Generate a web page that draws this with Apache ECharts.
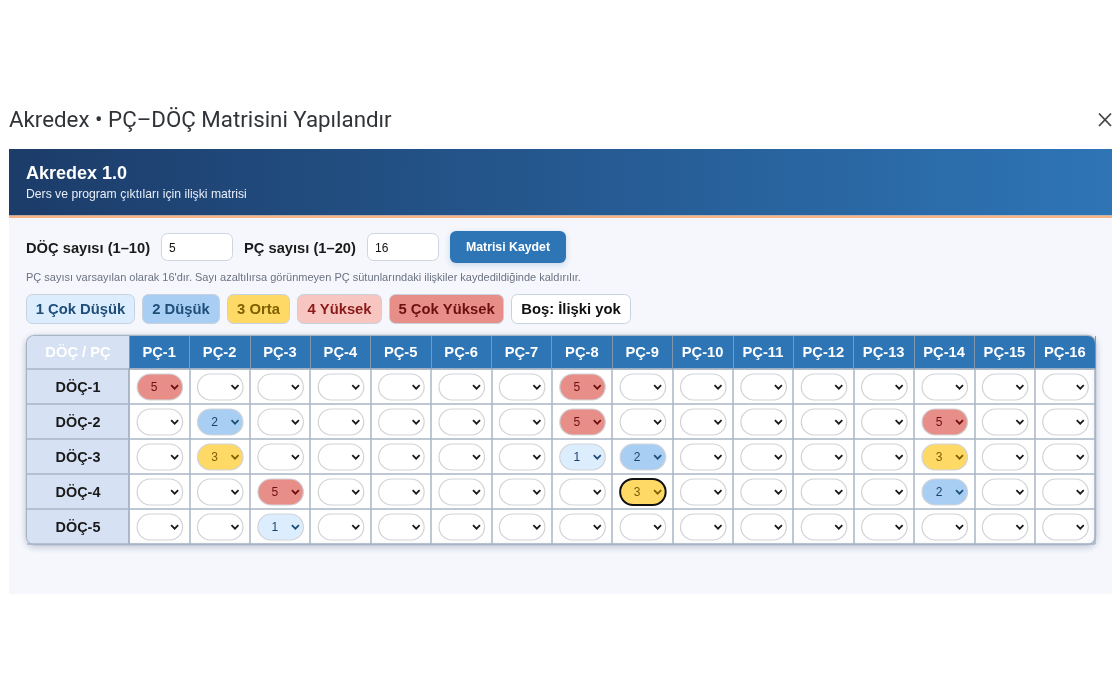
<!DOCTYPE html>
<html><head><meta charset="utf-8">
<style>html,body{margin:0;padding:0;background:#fff}#c{width:1120px;height:700px}</style>
<script src="https://cdn.jsdelivr.net/npm/echarts@6/dist/echarts.min.js"></script>
</head><body><div id="c"></div>
<script>
const pcLabels = ['PÇ-1','PÇ-2','PÇ-3','PÇ-4','PÇ-5','PÇ-6','PÇ-7','PÇ-8','PÇ-9','PÇ-10','PÇ-11','PÇ-12','PÇ-13','PÇ-14','PÇ-15','PÇ-16'];
const docLabels = ['DÖÇ-1','DÖÇ-2','DÖÇ-3','DÖÇ-4','DÖÇ-5'];
// 0 = boş (no relation)
const doc1 = [5,0,0,0,0,0,0,5,0,0,0,0,0,0,0,0];
const doc2 = [0,2,0,0,0,0,0,5,0,0,0,0,0,5,0,0];
const doc3 = [0,3,0,0,0,0,0,1,2,0,0,0,0,3,0,0];
const doc4 = [0,0,5,0,0,0,0,0,3,0,0,0,0,2,0,0];
const doc5 = [0,0,1,0,0,0,0,0,0,0,0,0,0,0,0,0];
const focusedCell = ['PÇ-9','DÖÇ-4'];
const legendLabels = ['1 Çok Düşük','2 Düşük','3 Orta','4 Yüksek','5 Çok Yüksek','Boş: İlişki yok'];
const titleText = 'Akredex • PÇ–DÖÇ Matrisini Yapılandır';
const appName = 'Akredex 1.0';
const appSub = 'Ders ve program çıktıları için ilişki matrisi';
const docCountLabel = 'DÖÇ sayısı (1–10)';
const pcCountLabel = 'PÇ sayısı (1–20)';
const docCount = '5';
const pcCount = '16';
const saveLabel = 'Matrisi Kaydet';
const noteText = 'PÇ sayısı varsayılan olarak 16\'dır. Sayı azaltılırsa görünmeyen PÇ sütunlarındaki ilişkiler kaydedildiğinde kaldırılır.';
const cornerLabel = 'DÖÇ / PÇ';

const rows = [doc1,doc2,doc3,doc4,doc5];
const cells = [];
rows.forEach((r,y)=>r.forEach((v,x)=>cells.push([x,y,v])));

const FONT = '"Liberation Sans", Arial, sans-serif';
const pill = {
  0:{fill:'#ffffff',text:'#111111',arrow:'#1a1a1a'},
  1:{fill:'#dceefe',text:'#1f3f6b',arrow:'#1f4e79'},
  2:{fill:'#a8cff3',text:'#1f3f6b',arrow:'#1f4e79'},
  3:{fill:'#ffd966',text:'#7f6000',arrow:'#7f6000'},
  4:{fill:'#f8c6c0',text:'#7a1212',arrow:'#7a1212'},
  5:{fill:'#e88e88',text:'#6e0f0f',arrow:'#6e0f0f'}
};
const chipStyle = [
  {x:26,w:109,fill:'#dceefe',text:'#1f4e79'},
  {x:142,w:78,fill:'#a8cff3',text:'#1f4e79'},
  {x:227,w:63,fill:'#ffd966',text:'#7f6000'},
  {x:297,w:85,fill:'#f8c6c0',text:'#8b1a1a'},
  {x:389,w:115,fill:'#e88e88',text:'#6e0f0f'},
  {x:511,w:120,fill:'#ffffff',text:'#111111'}
];
const T=(x,y,text,font,fill,extra)=>({type:'text',z:5,x:x,y:y+1,style:Object.assign({text:text,font:font,fill:fill,textVerticalAlign:'middle',textAlign:'left'},extra||{})});
const R=(x,y,w,h,r,fill,stroke,lw,extra)=>({type:'rect',z:-1,shape:{x:x,y:y,width:w,height:h,r:r},style:Object.assign({fill:fill,stroke:stroke||null,lineWidth:lw||0},extra||{})});

const g = [];
g.push(T(9,120,titleText,'22.3px Roboto, sans-serif','#303338'));
// close icon
g.push({type:'line',z:5,shape:{x1:1099,y1:113.5,x2:1111,y2:126},style:{stroke:'#444',lineWidth:1.8}});
g.push({type:'line',z:5,shape:{x1:1111,y1:113.5,x2:1099,y2:126},style:{stroke:'#444',lineWidth:1.8}});
// panel
g.push(R(9,149,1103,445,0,'#f5f7fc'));
g.push(R(9,149,1103,66.5,0,new echarts.graphic.LinearGradient(0,0,1,0.06,[{offset:0,color:'#1c3c69'},{offset:1,color:'#2e75b6'}])));
g.push(R(9,215.5,1103,2.5,0,'#f7b588'));
g.push(T(26,173,appName,'bold 18px '+FONT,'#ffffff'));
g.push(T(26,194,appSub,'12.2px '+FONT,'#e8eef8'));
// controls
g.push(T(26,247.5,docCountLabel,'bold 14.7px '+FONT,'#1a1a1a'));
g.push(R(161.5,233.5,71,27,6,'#ffffff','#cdd5e0',1));
g.push(T(169,247.5,docCount,'12px '+FONT,'#111'));
g.push(T(244,247.5,pcCountLabel,'bold 14.7px '+FONT,'#1a1a1a'));
g.push(R(367.5,233.5,71,27,6,'#ffffff','#cdd5e0',1));
g.push(T(375,247.5,pcCount,'12px '+FONT,'#111'));
g.push(R(450,231,116,32,6,'#2e75b6',null,0,{shadowBlur:6,shadowColor:'rgba(46,117,182,0.25)',shadowOffsetY:2}));
g.push(T(508,247,saveLabel,'bold 12.3px '+FONT,'#ffffff',{textAlign:'center'}));
g.push(T(26,277,noteText,'11px '+FONT,'#6b7280'));
// legend chips
legendLabels.forEach((l,i)=>{
  const c=chipStyle[i];
  g.push(R(c.x+.5,294.5,c.w-1,29,6,c.fill,'#c8d2de',1));
  g.push(T(c.x+c.w/2,308.5,l,'bold 14.8px '+FONT,c.text,{textAlign:'center'}));
});
// table frame
g.push(R(26.5,335.5,1069,209,8,'#ffffff','#a9b5c6',1.5,{shadowBlur:6,shadowColor:'rgba(30,50,90,0.22)',shadowOffsetY:2}));
g.push(R(27,336,102,208,[7,0,0,7],'#d6e2f4'));
g.push(R(129,336,966,33,[0,7,0,0],'#2e75b6'));
g.push(T(78,351.5,cornerLabel,'bold 14.7px '+FONT,'#ffffff',{textAlign:'center'}));

function renderSelect(params,api){
  const xi=api.value(0), yi=api.value(1), v=api.value(2);
  const c=api.coord([xi,yi]);
  const p=pill[v]||pill[0];
  const isFocus=pcLabels[xi]===focusedCell[0]&&docLabels[yi]===focusedCell[1];
  const w=45.5,h=26,cx=c[0]+0.7,cy=c[1]+0.5;
  const kids=[{type:'rect',shape:{x:cx-w/2,y:cy-h/2,width:w,height:h,r:13},
    style:{fill:p.fill,stroke:isFocus?'#111111':'#d0d3d7',lineWidth:isFocus?2:1.2}}];
  kids.push({type:'polyline',shape:{points:[[cx+w/2-11.5,cy-1.8],[cx+w/2-8,cy+1.7],[cx+w/2-4.5,cy-1.8]]},
    style:{fill:null,stroke:p.arrow,lineWidth:1.8}});
  if(v>0)kids.push({type:'text',x:cx-w/2+17,y:cy+0.5,style:{text:String(v),font:'12px '+FONT,fill:p.text,textAlign:'center',textVerticalAlign:'middle'}});
  return {type:'group',children:kids};
}

const chart=echarts.init(document.getElementById('c'));
chart.setOption({
  animation:false,
  backgroundColor:'#ffffff',
  graphic:{elements:g},
  grid:{left:129,top:369,width:966,height:175,containLabel:false},
  xAxis:{type:'category',position:'top',data:pcLabels,
    axisLine:{show:true,lineStyle:{color:'#a9b5c6',width:1.5}},
    axisTick:{show:true,length:33,lineStyle:{color:'#7f96ad',width:1}},
    axisLabel:{show:true,interval:0,color:'#ffffff',fontFamily:FONT,fontWeight:'bold',fontSize:14.7,margin:16,verticalAlign:'middle',align:'center'},
    splitLine:{show:true,lineStyle:{color:'#a9b5c6',width:1.5}}},
  yAxis:{type:'category',inverse:true,data:docLabels,
    axisLine:{show:true,lineStyle:{color:'#a9b5c6',width:1.5}},
    axisTick:{show:true,length:102,lineStyle:{color:'#a9b5c6',width:1.5}},
    axisLabel:{show:true,interval:0,color:'#1a1a1a',fontFamily:FONT,fontWeight:'bold',fontSize:14.4,margin:51,align:'center',verticalAlign:'top',lineHeight:14,padding:[-5,0,0,0]},
    splitLine:{show:true,lineStyle:{color:'#a9b5c6',width:1.5}}},
  series:[{type:'custom',coordinateSystem:'cartesian2d',renderItem:renderSelect,
    encode:{x:0,y:1},data:cells,clip:false,silent:true}]
});
</script></body></html>
